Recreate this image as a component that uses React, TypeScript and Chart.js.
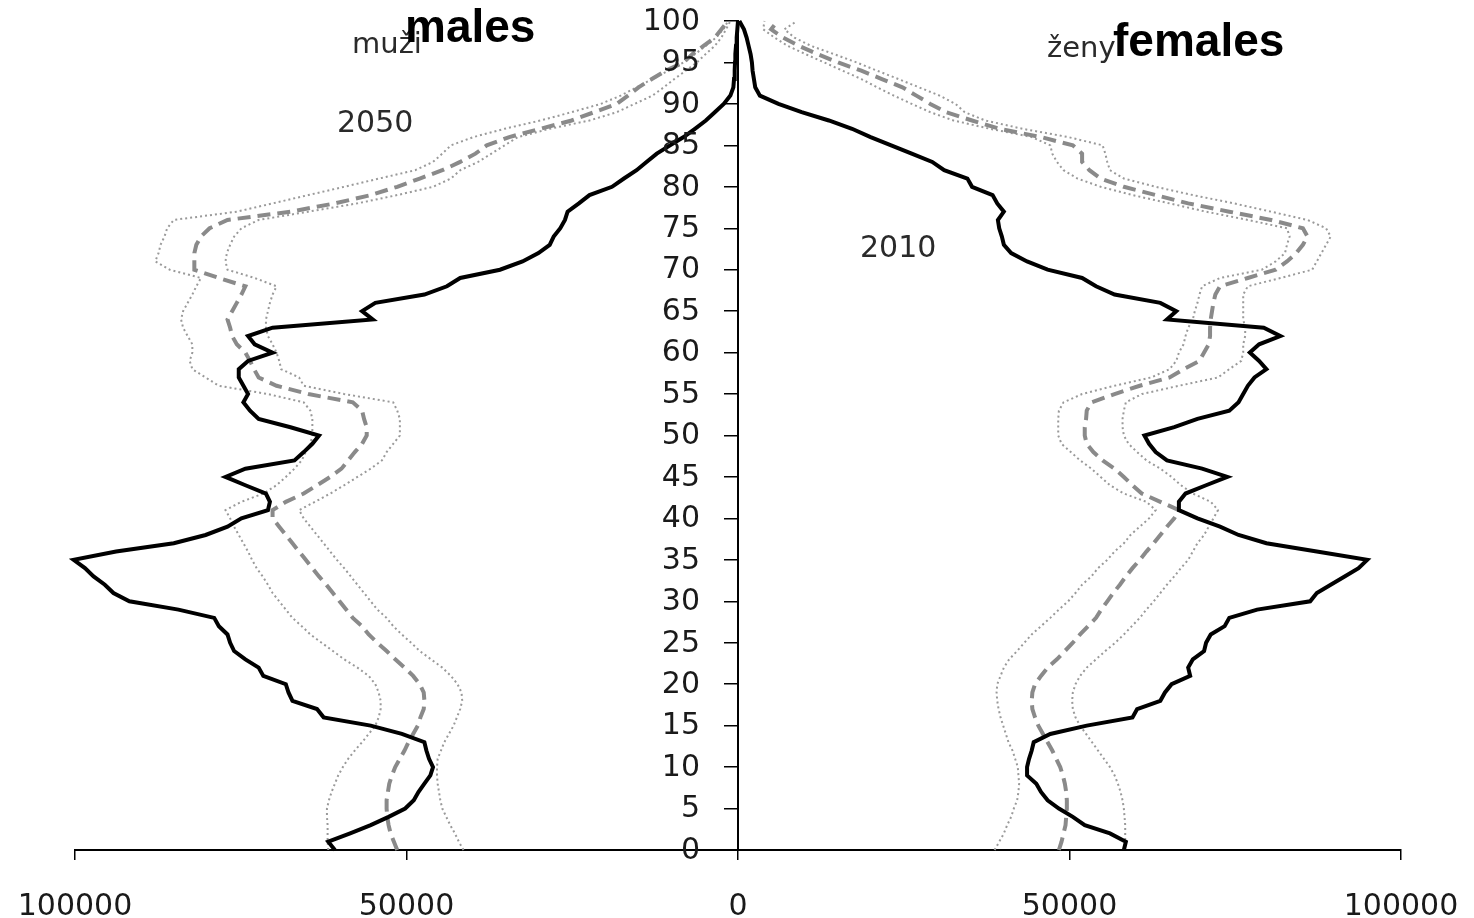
import React, { useEffect, useRef } from "react";
import { Chart, registerables } from "chart.js";

Chart.register(...registerables);

// Ages 0..100
const ages: number[] = Array.from({ length: 101 }, (_, i) => i);

// Males 2010 (solid)
const male2010: number[] = [
  60800, 61800, 58500, 55400, 52700, 50200, 48900, 48200, 47300, 46400,
  46000, 46600, 47000, 47300, 50700, 55400, 62500, 63500, 67200, 67800,
  68200, 71600, 72300, 74300, 76000, 76600, 77000, 78300, 79000, 84400,
  91800, 94200, 95500, 97200, 98500, 100200, 93800, 85100, 80300, 77000,
  74900, 70900, 70600, 71200, 74300, 77300, 74300, 66900, 65500, 64200,
  63200, 67500, 72300, 73600, 74600, 73900, 74600, 75300, 75300, 73900,
  70200, 72900, 73900, 70200, 55100, 56700, 54700, 47300, 43900, 41900,
  35900, 32500, 30100, 28400, 27800, 26800, 26100, 25700, 24000, 22400,
  19000, 17200, 15300, 13800, 12250, 10250, 8200, 6500, 4850, 3500,
  2150, 1150, 700, 600, 500, 450, 400, 300, 200, 100, 0,
];

// Males 2050 medium projection (dashed)
const male2050: number[] = [
  51400, 51900, 52400, 52700, 52900, 53000, 53000, 52800, 52600, 52200,
  51700, 51000, 50300, 49700, 49000, 48300, 47900, 47400, 47300, 47400,
  48000, 49000, 50300, 51700, 53000, 54400, 55700, 56700, 58100, 59100,
  60100, 61100, 62100, 63200, 64200, 65200, 66200, 67200, 68200, 69200,
  70200, 70200, 68200, 65500, 63500, 61500, 59800, 58800, 57800, 56700,
  56000, 56000, 56400, 56700, 58100, 64800, 69600, 72300, 73000, 73600,
  74300, 75600, 76300, 76600, 77000, 76300, 75600, 74900, 74300, 78300,
  82000, 82000, 82000, 81700, 81000, 79700, 77000, 67500, 60800, 55400,
  51400, 48000, 44600, 41900, 39600, 37900, 34500, 29800, 25100, 21700,
  18300, 16600, 15000, 13000, 10900, 8200, 6900, 5200, 3500, 2500, 1500,
];

// Males 2050 high variant (dotted, outer)
const male2050High: number[] = [
  61800, 61900, 61900, 61900, 62000, 62000, 61700, 61300, 60800, 60300,
  59600, 58800, 57800, 56700, 55700, 54700, 54200, 53900, 53900, 54200,
  54700, 55700, 57400, 59400, 61100, 62800, 64500, 65800, 67200, 68200,
  69200, 70200, 70900, 71700, 72600, 73300, 73900, 74600, 75300, 76000,
  76600, 77300, 74900, 71600, 69600, 68200, 66900, 65800, 65200, 64500,
  64200, 64200, 64200, 64500, 65500, 70900, 78300, 80300, 82300, 82700,
  82300, 82300, 83000, 83700, 84000, 83700, 83000, 82300, 81700, 81000,
  85700, 87900, 87400, 87100, 86500, 86100, 85100, 75600, 70200, 64800,
  59400, 54100, 48700, 46000, 44600, 43300, 39900, 35200, 29800, 25100,
  20700, 17700, 15300, 12900, 10500, 8200, 6500, 4850, 3300, 2200, 1500,
];

// Males 2050 low variant (dotted, inner)
const male2050Low: number[] = [
  41400, 42100, 42700, 43400, 44000, 44600, 44900, 45100, 45300, 45400,
  45400, 45300, 44800, 44300, 43600, 42900, 42400, 41900, 41600, 41700,
  42300, 43300, 44600, 46300, 48000, 49300, 50700, 52000, 53000, 54400,
  55400, 56400, 57400, 58400, 59400, 60500, 61500, 62500, 63500, 64500,
  65500, 66200, 63800, 61500, 59400, 57400, 55400, 53700, 53000, 52000,
  51000, 51000, 51000, 51400, 52000, 59400, 65500, 66200, 68900, 69200,
  69600, 70200, 70900, 71200, 71200, 70900, 70600, 70200, 69600, 72900,
  77000, 77300, 77100, 76600, 76000, 74900, 72300, 64800, 57400, 51400,
  46000, 43300, 41900, 39200, 37200, 35200, 33200, 28400, 22400, 18300,
  15600, 12900, 11200, 9600, 7900, 6200, 4900, 3500, 2500, 1800, 1150,
];

// Females 2010 (solid)
const female2010: number[] = [
  58200, 58500, 56100, 52300, 50500, 48400, 46700, 45700, 45000, 43600,
  43600, 43900, 44300, 44600, 47100, 52600, 59500, 60200, 63700, 64400,
  65400, 68200, 67900, 68600, 70300, 70600, 71300, 73400, 74100, 78300,
  86300, 87300, 89400, 91500, 93600, 94900, 87300, 79700, 75500, 72700,
  69300, 66500, 66500, 67500, 70600, 73800, 70000, 64700, 63000, 62000,
  61300, 65800, 69300, 74100, 75500, 76200, 76900, 77900, 79700, 78600,
  77200, 78600, 81800, 79300, 64700, 66100, 63700, 56800, 54000, 51900,
  46700, 43600, 41200, 40100, 39800, 39400, 39200, 40100, 39100, 38400,
  35300, 34600, 31100, 29300, 26200, 23100, 20000, 17200, 13700, 9600,
  6100, 3300, 2600, 2400, 2200, 2100, 1900, 1600, 1300, 900, 200,
];

// Females 2050 medium projection (dashed)
const female2050: number[] = [
  48400, 48800, 49100, 49400, 49500, 49600, 49600, 49500, 49300, 49000,
  48600, 48000, 47400, 46700, 46000, 45300, 44800, 44400, 44300, 44400,
  44800, 45700, 46700, 48100, 49300, 50500, 51600, 52800, 54000, 54800,
  55700, 56600, 57600, 58500, 59500, 60600, 61600, 62700, 63700, 64700,
  65800, 66500, 63700, 60900, 59500, 58200, 56800, 55000, 53600, 52600,
  52300, 52300, 52500, 52600, 53300, 56800, 60600, 65100, 67200, 69600,
  70300, 71000, 71200, 71200, 71300, 71500, 71700, 72000, 72700, 76900,
  81100, 82800, 84200, 85200, 85900, 85200, 80400, 74100, 67900, 63000,
  58200, 54700, 53000, 51900, 51900, 50500, 45700, 39400, 35300, 31400,
  29000, 26900, 24800, 21700, 18600, 15100, 12000, 9200, 6800, 5000, 6000,
];

// Females 2050 high variant (dotted, outer)
const female2050High: number[] = [
  58300, 58400, 58400, 58400, 58300, 58200, 58000, 57700, 57300, 56800,
  56100, 55200, 54300, 53400, 52500, 51600, 50900, 50500, 50400, 50500,
  50900, 51600, 52600, 54000, 55400, 56900, 58200, 59400, 60600, 61600,
  62700, 63700, 64700, 65800, 66800, 67900, 68600, 69300, 70300, 71000,
  71700, 72400, 71300, 68600, 66800, 65400, 63700, 61600, 60200, 58900,
  58200, 58000, 58000, 58200, 58500, 60900, 66500, 72400, 74100, 75900,
  76200, 76200, 76500, 76500, 76200, 76200, 76200, 76200, 76900, 81800,
  86600, 87300, 88000, 88700, 89400, 88700, 85900, 80400, 74800, 68600,
  63000, 58200, 56100, 55700, 55400, 55000, 49800, 42900, 37300, 34200,
  32800, 30400, 27300, 24200, 21000, 17900, 14500, 11000, 8500, 7000, 8900,
];

// Females 2050 low variant (dotted, inner)
const female2050Low: number[] = [
  38700, 39400, 40100, 40600, 41200, 41600, 42100, 42300, 42400, 42300,
  42200, 41800, 41400, 40800, 40400, 40000, 39600, 39300, 39100, 39000,
  39100, 39600, 40100, 40900, 42100, 43200, 44300, 45700, 47100, 48400,
  49800, 50900, 51900, 53300, 54300, 55700, 56800, 58200, 59200, 60600,
  62000, 63000, 61600, 58200, 56100, 54700, 53300, 51600, 50200, 48800,
  48300, 48300, 48300, 48400, 49100, 51900, 56800, 62300, 65100, 66100,
  66500, 67200, 67500, 67900, 68600, 68900, 69300, 69600, 70000, 72700,
  79000, 81100, 82500, 82800, 83200, 82800, 76900, 70600, 65100, 59500,
  54700, 51200, 49100, 48100, 47400, 47100, 44300, 38000, 32500, 29000,
  26200, 23500, 21000, 18600, 15800, 13000, 10200, 7500, 5500, 3800, 4000,
];

const xTicks: number[] = [-100000, -50000, 0, 50000, 100000];
const yTicks: number[] = Array.from({ length: 21 }, (_, i) => i * 5);

const toPoints = (vals: number[], sign: number) =>
  vals.map((v, i) => ({ x: sign * v, y: ages[i] }));

const TICK_FONT = '30px "DejaVu Sans"';

const annotationPlugin = {
  id: "annotations",
  afterDraw(chart: any) {
    const ctx = chart.ctx as CanvasRenderingContext2D;
    const xs = chart.scales.x;
    const ys = chart.scales.y;
    ctx.save();
    // y tick labels, left of the centred axis
    const axisX = xs.getPixelForValue(0);
    ctx.fillStyle = "#1a1a1a";
    ctx.font = TICK_FONT;
    ctx.textAlign = "right";
    ctx.textBaseline = "middle";
    for (const t of ys.ticks) {
      ctx.fillText(String(t.value), axisX - 38, ys.getPixelForValue(t.value) + 1);
    }
    // annotations
    ctx.textBaseline = "alphabetic";
    ctx.textAlign = "left";
    ctx.fillStyle = "#2a2a2a";
    ctx.font = '29px "DejaVu Sans"';
    ctx.fillText("muži", 352, 53);
    ctx.fillText("ženy", 1047, 57);
    ctx.font = '30px "DejaVu Sans"';
    ctx.fillText("2050", 337, 132);
    ctx.fillText("2010", 860, 257);
    ctx.fillStyle = "#000";
    ctx.font = 'bold 46px "Liberation Sans"';
    ctx.fillText("males", 405, 42);
    ctx.fillText("females", 1113, 56);
    ctx.restore();
  },
};

export default function App() {
  const ref = useRef<HTMLCanvasElement | null>(null);

  useEffect(() => {
    if (!ref.current) return;
    const solid = { borderColor: "#000", borderWidth: 4, borderDash: [] as number[] };
    const dashed = { borderColor: "#8a8a8a", borderWidth: 4, borderDash: [13, 7] };
    const dotted = { borderColor: "#9a9a9a", borderWidth: 2, borderDash: [2, 3] };
    const mk = (label: string, vals: number[], sign: number, style: any) => ({
      label,
      data: toPoints(vals, sign),
      pointRadius: 0,
      tension: 0,
      fill: false,
      clip: false as any,
      ...style,
    });
    const chart = new Chart(ref.current, {
      type: "line",
      data: {
        datasets: [
          mk("muži 2010", male2010, -1, solid),
          mk("ženy 2010", female2010, 1, solid),
          mk("muži 2050", male2050, -1, dashed),
          mk("ženy 2050", female2050, 1, dashed),
          mk("muži 2050 vysoká", male2050High, -1, dotted),
          mk("muži 2050 nízká", male2050Low, -1, dotted),
          mk("ženy 2050 vysoká", female2050High, 1, dotted),
          mk("ženy 2050 nízká", female2050Low, 1, dotted),
        ] as any,
      },
      options: {
        responsive: false,
        animation: false,
        layout: { padding: { left: 75, right: 73, top: 21, bottom: 0 } },
        plugins: {
          legend: { display: false },
          tooltip: { enabled: false },
        },
        scales: {
          x: {
            type: "linear",
            position: "bottom",
            min: -100000,
            max: 100000,
            afterBuildTicks: (s: any) => {
              s.ticks = xTicks.map((v) => ({ value: v }));
            },
            afterFit: (s: any) => {
              s.height = 68;
              s.paddingLeft = 0;
              s.paddingRight = 0;
            },
            ticks: {
              autoSkip: false,
              maxRotation: 0,
              padding: 29,
              color: "#1a1a1a",
              font: { family: "DejaVu Sans", size: 30 },
              callback: (v: any) => String(Math.abs(Number(v))),
            },
            grid: { drawOnChartArea: false, drawTicks: true, tickLength: 10, color: "#000", lineWidth: 1.5 },
            border: { display: true, color: "#000", width: 2 },
          },
          y: {
            type: "linear",
            position: { x: 0 } as any,
            min: 0,
            max: 100,
            afterBuildTicks: (s: any) => {
              s.ticks = yTicks.map((v) => ({ value: v }));
            },
            ticks: { display: false },
            grid: { drawOnChartArea: false, drawTicks: true, tickLength: 13, color: "#000", lineWidth: 1.5 },
            border: { display: true, color: "#000", width: 2 },
          },
        },
      } as any,
      plugins: [annotationPlugin],
    });
    return () => chart.destroy();
  }, []);

  return (
    <div style={{ position: "absolute", left: 0, top: 0, width: 1474, height: 918, background: "#fff" }}>
      <canvas ref={ref} width={1474} height={918} style={{ display: "block" }} />
    </div>
  );
}
